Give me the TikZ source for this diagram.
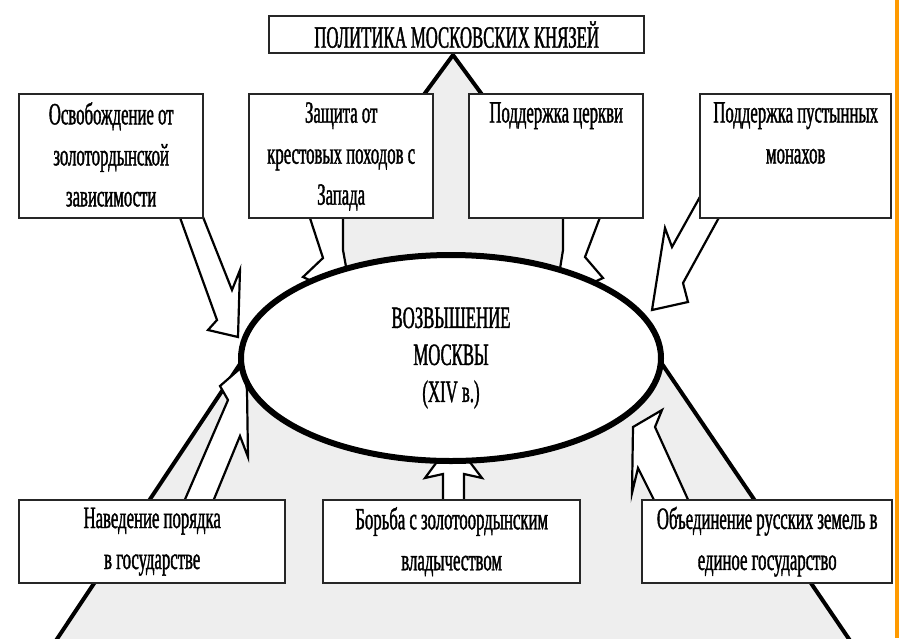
\documentclass[tikz,border=0pt]{standalone}
\usepackage{fontspec}
\setmainfont{Liberation Serif}
\newfontfamily\condfont[FakeStretch=0.54, FakeBold=1.2]{Liberation Serif}
\usetikzlibrary{shapes.geometric}
\definecolor{pyramidgray}{HTML}{EEEEEE}
\definecolor{frameorange}{HTML}{FF9A00}
\tikzset{
  box/.style={draw=black!85, line width=2.4pt, fill=white, anchor=north west, inner sep=0pt, align=center, font=\condfont\fontsize{31}{41}\selectfont},
  boxtext/.style={anchor=north, inner sep=0pt, align=center, font=\condfont\fontsize{31}{41}\selectfont},
  hollow/.style={draw=black, line width=2.2pt, fill=white, line join=miter},
  side/.style={line width=4pt, line join=miter}
}

\begin{document}
\begin{tikzpicture}[x=1pt, y=-1pt]
			%%%%% START %%%%%
			\useasboundingbox (0,0) rectangle (902,638);
			
			% pyramid behind everything
			\fill[pyramidgray] (453,55) -- (335,216) -- (343,216) -- (343,300) -- (241,362) -- (55,642)
			  -- (851,642) -- (661,362) -- (563,300) -- (563,216) -- (571,216) -- cycle;
			\draw[side] (420,100) -- (453,55) -- (486,100);
			\draw[side] (244,358) -- (55,642);
			\draw[side] (658,358) -- (851,642);
			
			% hollow arrows
			\draw[hollow] (178,212) -- (217,320) -- (208,330) -- (238,337) -- (240,270) -- (232,290) -- (201,212) -- cycle;
			\draw[hollow] (308,212) -- (323,258) -- (303,277) -- (352,300) -- (343,250) -- (343,212) -- cycle;
			\draw[hollow] (602,212) -- (585,257) -- (603,278) -- (555,300) -- (563,250) -- (563,212) -- cycle;
			\draw[hollow] (722,212) -- (683,283) -- (688,302) -- (652,310) -- (665,228) -- (672,247) -- (701,195) -- cycle;
			\draw[hollow] (183,504) -- (228,400) -- (220,386) -- (243,366) -- (247,390) -- (248,457) -- (240,436) -- (212,504) -- cycle;
			\draw[hollow] (443,504) -- (443,474) -- (425,478) -- (453,440) -- (482,478) -- (464,474) -- (464,504) -- cycle;
			\draw[hollow] (690,504) -- (655,427) -- (662,410) -- (633,427) -- (632,493) -- (638,468) -- (656,504) -- cycle;
			
			% boxes
			\node[box, minimum width=375, minimum height=37] (politika) at (268,15) {ПОЛИТИКА МОСКОВСКИХ КНЯЗЕЙ};
			
			\node[box, minimum width=184, minimum height=124] (osvob) at (18,93) {};
			\node[box, minimum width=184, minimum height=124] (zashita) at (248,93) {};
			\node[box, minimum width=174, minimum height=124] (cerkov) at (468,93) {};
			\node[box, minimum width=191, minimum height=124] (monahi) at (699,93) {};
			\node[boxtext] (osvobtext) at ([yshift=-9pt]osvob.north) {Освобождение от\\золотордынской\\зависимости};
			\node[boxtext] (zashitatext) at ([yshift=-9pt]zashita.north) {Защита от\\крестовых походов с\\Запада};
			\node[boxtext] (cerkovtext) at ([yshift=-9pt]cerkov.north) {Поддержка церкви};
			\node[boxtext] (monahitext) at ([yshift=-9pt]monahi.north) {Поддержка пустынных\\монахов};
			
			\node[box, minimum width=266, minimum height=83] (poryadok) at (18,499) {Наведение порядка\\в государстве};
			\node[box, minimum width=257, minimum height=83] (borba) at (322,499) {Борьба с золотоордынским\\владычеством};
			\node[box, minimum width=250, minimum height=83] (obedinenie) at (641,499) {Объединение русских земель в\\единое государство};
			
			% centre
			\node[ellipse, draw, line width=6pt, fill=white, minimum width=420, minimum height=206, inner sep=0pt, align=center,
			  font=\condfont\fontsize{31}{37}\selectfont] (moskva) at (451,358) {ВОЗВЫШЕНИЕ\\МОСКВЫ\\(XIV в.)};
			
			\draw[frameorange, line width=4pt] (897,0) -- (897,638);
			%%%%% END %%%%%
\end{tikzpicture}
\end{document}
